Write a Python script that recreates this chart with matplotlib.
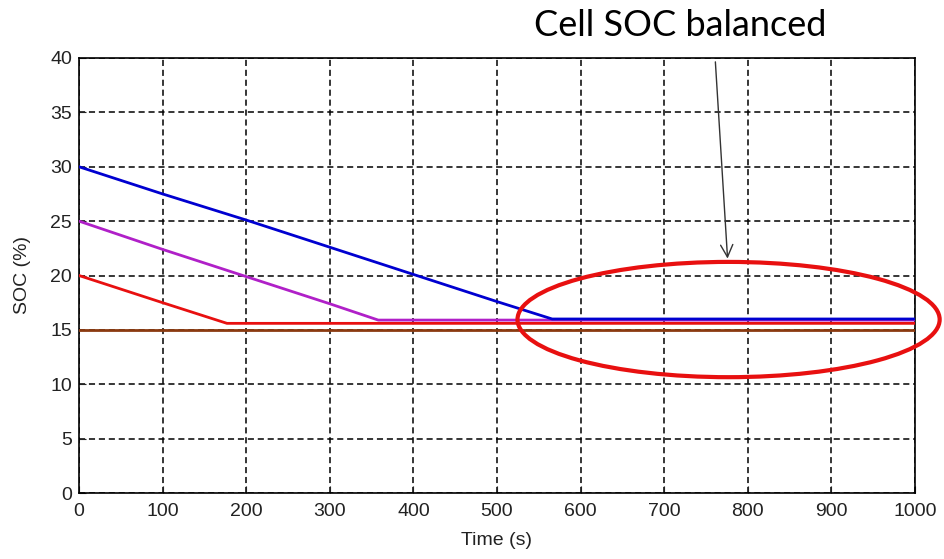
import matplotlib
matplotlib.use("Agg")
import matplotlib.pyplot as plt
from matplotlib.patches import Ellipse

# Data
t_blue = [0, 100, 200, 300, 400, 500, 566, 1000]
soc_blue = [30.0, 27.5, 25.1, 22.6, 20.1, 17.6, 16.0, 16.0]
t_purple = [0, 100, 200, 300, 358, 1000]
soc_purple = [25.0, 22.4, 19.9, 17.4, 15.9, 15.9]
t_red = [0, 100, 177, 1000]
soc_red = [20.0, 17.5, 15.6, 15.6]
t_brown = [0, 1000]
soc_brown = [15.0, 15.0]

xticks = list(range(0, 1001, 100))
yticks = list(range(0, 41, 5))

fig = plt.figure(figsize=(9.45, 5.59), dpi=100)
ax = fig.add_axes([79 / 945, 66 / 559, 836 / 945, 435 / 559])

ax.plot(t_brown, soc_brown, color="#8b3a10", lw=2.0, zorder=3)
ax.plot(t_red, soc_red, color="#e81010", lw=2.0, zorder=4)
ax.plot(t_purple, soc_purple, color="#b020c8", lw=2.0, zorder=4)
ax.plot(t_blue, soc_blue, color="#0000d0", lw=2.0, zorder=5)

ax.set_xlim(0, 1000)
ax.set_ylim(0, 40)
ax.set_xticks(xticks)
ax.set_yticks(yticks)
ax.tick_params(direction="in", labelsize=14, length=5, colors="#222222")
ax.tick_params(axis="x", pad=7)
ax.tick_params(axis="y", pad=5)
for lbl in ax.get_xticklabels() + ax.get_yticklabels():
    lbl.set_family("Liberation Sans")
ax.grid(True, color="black", linestyle=(0, (4, 2.5)), linewidth=1.1)
for s in ax.spines.values():
    s.set_linewidth(1.2)
ax.set_xlabel("Time (s)", fontsize=14, family="Liberation Sans", labelpad=9,
              color="#222222")
ax.set_ylabel("SOC (%)", fontsize=14, family="Liberation Sans", labelpad=14,
              color="#222222")

ell = Ellipse((777, 15.95), 505, 10.6, fill=False, edgecolor="#e81010",
              lw=3.0, zorder=6, clip_on=False)
ax.add_patch(ell)

fig.text(0.72, 0.955, "Cell SOC balanced", fontsize=26, family="Lato",
         ha="center", va="center", color="black")
ax.annotate("", xy=(776, 21.3), xytext=(761, 39.9), xycoords="data",
            annotation_clip=False,
            arrowprops=dict(arrowstyle="->", color="#333333", lw=1.0,
                            mutation_scale=22))

fig.savefig("out.png", dpi=100)
